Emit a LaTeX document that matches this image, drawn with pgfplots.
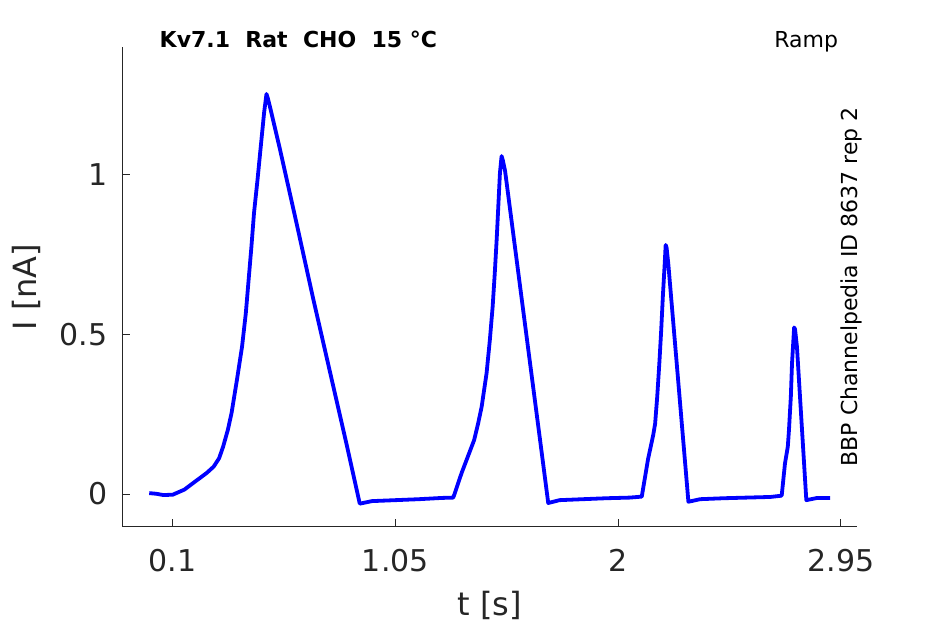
\documentclass[border=0pt]{standalone}
\usepackage{pgfplots}
\pgfplotsset{compat=1.18}
\usepackage{fontspec}
\setmainfont{DejaVu Sans}
\definecolor{axgray}{RGB}{38,38,38}
\definecolor{trace}{RGB}{0,0,255}
\begin{document}
\begin{tikzpicture}
\useasboundingbox (-61.15pt,-48.65pt) rectangle (411.35pt,263.35pt);
\begin{axis}[
  at={(0,0)}, anchor=south west,
  scale only axis, width=367.2pt, height=239.7pt,
  xmin=-0.115, xmax=3.018, ymin=-0.102, ymax=1.397,
  axis x line*=bottom, axis y line*=left,
  axis line style={axgray, line width=0.5pt},
  every tick/.style={axgray, line width=0.5pt},
  major tick length=4pt, tick align=inside,
  xtick={0.1,1.05,2,2.95}, xticklabels={0.1,1.05,2,2.95},
  ytick={0,0.5,1}, yticklabels={0,0.5,1},
  /pgf/number format/assume math mode=true,
  tick label style={font=\fontsize{15}{18}\selectfont, text=axgray},
  xticklabel style={anchor=base, yshift=-22.5pt},
  yticklabel style={anchor=east, xshift=-4pt},
  xlabel={t [s]}, ylabel={I [nA]},
  every axis x label/.style={at={(axis description cs:0.5,-0.1842)}, anchor=base, font=\fontsize{16}{19}\selectfont, text=axgray},
  every axis y label/.style={at={(axis description cs:-0.1162,0.5)}, anchor=base, rotate=90, font=\fontsize{16}{19}\selectfont, text=axgray},
  clip=false,
]
\addplot[trace, line width=1.9pt, line join=round] coordinates {
(0.000,0.003) (0.03,0.001) (0.06,-0.003) (0.10,-0.002) (0.15,0.014) (0.201,0.042)
(0.245,0.066) (0.275,0.086) (0.298,0.112) (0.315,0.148) (0.335,0.200) (0.351,0.253) (0.374,0.357)
(0.396,0.462) (0.412,0.566) (0.424,0.671) (0.436,0.775) (0.447,0.880)
(0.462,0.984) (0.476,1.089) (0.490,1.193) (0.500,1.251) (0.505,1.240)
(0.514,1.214) (0.557,1.080) (0.628,0.848) (0.699,0.612) (0.770,0.385)
(0.842,0.155) (0.898,-0.030) (0.95,-0.022) (1.05,-0.019)
(1.15,-0.016) (1.25,-0.012) (1.297,-0.011) (1.332,0.065) (1.386,0.169)
(1.403,0.221) (1.418,0.273) (1.439,0.378) (1.453,0.482) (1.465,0.587)
(1.474,0.691) (1.482,0.795) (1.489,0.899) (1.496,1.004) (1.503,1.057)
(1.508,1.045) (1.518,1.010) (1.546,0.852) (1.582,0.649) (1.624,0.412)
(1.667,0.170) (1.702,-0.028) (1.75,-0.019) (1.85,-0.016)
(1.95,-0.013) (2.05,-0.011) (2.101,-0.008) (2.128,0.110) (2.150,0.185)
(2.158,0.220) (2.167,0.305) (2.176,0.409) (2.184,0.513) (2.191,0.618)
(2.199,0.722) (2.203,0.779) (2.207,0.770) (2.214,0.722) (2.300,-0.024)
(2.35,-0.016) (2.45,-0.013) (2.55,-0.011) (2.65,-0.009) (2.698,-0.005)
(2.712,0.096) (2.724,0.148) (2.729,0.200) (2.737,0.305) (2.742,0.409)
(2.751,0.521) (2.755,0.515) (2.763,0.461) (2.803,-0.019) (2.85,-0.012) (2.905,-0.012)
};
\node[anchor=base west, inner sep=0pt, font=\bfseries\fontsize{11}{13}\selectfont] at (rel axis cs:0.0504,1) {Kv7.1\ \ Rat\ \ CHO\ \ 15 °C};
\node[anchor=base east, inner sep=0pt, font=\fontsize{11}{13}\selectfont] at (rel axis cs:0.975,1) {Ramp};
\node[anchor=base west, inner sep=0pt, rotate=90, font=\fontsize{11}{13}\selectfont] at (rel axis cs:1.0008,0.125) {BBP Channelpedia ID 8637 rep 2};
\end{axis}
\end{tikzpicture}
\end{document}
